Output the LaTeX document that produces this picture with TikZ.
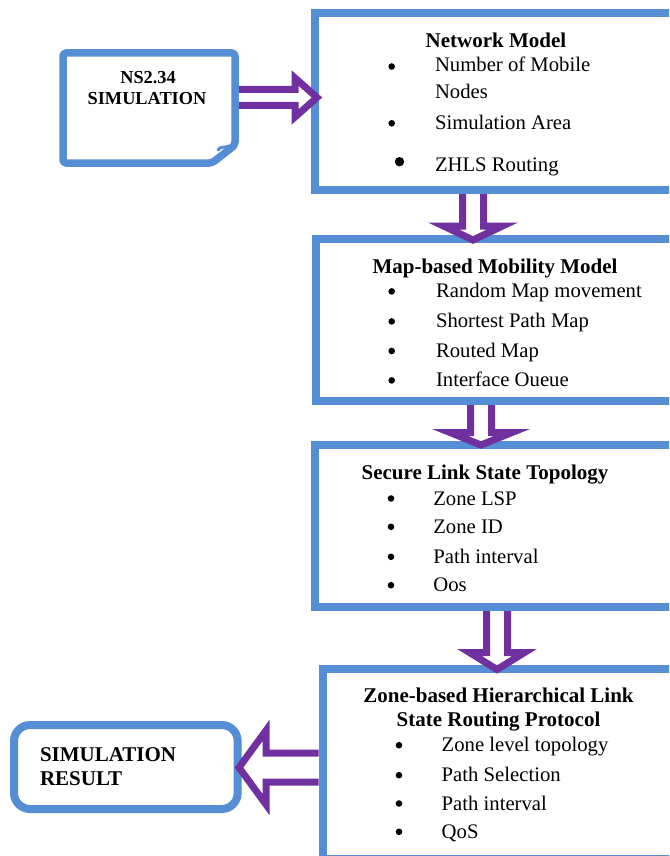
\documentclass[tikz,border=0pt]{standalone}
\usepackage{fontspec}
\setmainfont{Liberation Serif}
\usetikzlibrary{calc}
\definecolor{boxblue}{RGB}{85,142,213}
\definecolor{arrowpurple}{RGB}{112,48,160}
\newcommand\bodyfont{\fontsize{20.7}{24}\selectfont}
\newcommand\headfont{\fontsize{21}{24}\selectfont\bfseries}
\newcommand\nsfont{\fontsize{18.3}{21}\selectfont\bfseries}
% hollow block arrow pointing down: start, tip, half shaft, half head, head length
\newcommand\arrowdown[5]{%
  \fill[white] ($(#1)+(-#3,0)$) -- ($(#2)+(-#3,-#5)$) -- ($(#2)+(-#4,-#5)$) -- (#2)
     -- ($(#2)+(#4,-#5)$) -- ($(#2)+(#3,-#5)$) -- ($(#1)+(#3,0)$) -- cycle;
  \draw[hollow] ($(#1)+(-#3,0)$) -- ($(#2)+(-#3,-#5)$) -- ($(#2)+(-#4,-#5)$) -- (#2)
     -- ($(#2)+(#4,-#5)$) -- ($(#2)+(#3,-#5)$) -- ($(#1)+(#3,0)$);}
% hollow block arrow sideways: start, tip, half shaft, half head, head length, dir (1 right, -1 left)
\newcommand\arrowside[6]{%
  \fill[white] ($(#1)+(0,-#3)$) -- ($(#2)+({-(#6)*#5},-#3)$) -- ($(#2)+({-(#6)*#5},-#4)$) -- (#2)
     -- ($(#2)+({-(#6)*#5},#4)$) -- ($(#2)+({-(#6)*#5},#3)$) -- ($(#1)+(0,#3)$) -- cycle;
  \draw[hollow] ($(#1)+(0,-#3)$) -- ($(#2)+({-(#6)*#5},-#3)$) -- ($(#2)+({-(#6)*#5},-#4)$) -- (#2)
     -- ($(#2)+({-(#6)*#5},#4)$) -- ($(#2)+({-(#6)*#5},#3)$) -- ($(#1)+(0,#3)$);}
\begin{document}
\begin{tikzpicture}[x=1pt,y=-1pt,
  bluebox/.style={draw=boxblue,line width=8pt,rectangle,inner sep=0pt,outer sep=0pt},
  hollow/.style={draw=arrowpurple,line width=7pt,line join=miter,line cap=butt},
  txt/.style={inner sep=0pt,outer sep=0pt,font=\bodyfont,anchor=base west},
  head/.style={inner sep=0pt,outer sep=0pt,font=\headfont,anchor=base},
  bul/.style={fill=black}]
\clip (0,0) rectangle (669,856);
\fill[white] (0,0) rectangle (669,856);

% main boxes (open to the right edge)
\node[bluebox,minimum width=400,minimum height=177,anchor=north west] (net) at (315,13) {};
\node[bluebox,minimum width=400,minimum height=162,anchor=north west] (map) at (315.5,239) {};
\node[bluebox,minimum width=400,minimum height=162,anchor=north west] (sec) at (315,445) {};
\node[bluebox,minimum width=400,minimum height=190,anchor=north west] (zhls) at (322.5,669) {};

% NS2.34 document box
\node[inner sep=0pt,outer sep=0pt,minimum width=172,minimum height=110,anchor=north west] (ns) at (63,53) {};
\draw[boxblue,line width=7.5pt,rounded corners=3pt,line join=round]
  (ns.north west) -- (ns.north east) -- ($(ns.north east)+(0,92)$)
  -- ($(ns.south east)+(-23,0)$) -- (ns.south west) -- cycle;
\draw[boxblue,line width=3pt,line cap=round]
  ($(ns.north east)+(-17,97)$) .. controls ($(ns.north east)+(-15,93)$) and ($(ns.north east)+(-10,95)$) .. ($(ns.north east)+(-6,93)$);

% simulation result box
\node[bluebox,rounded corners=16pt,minimum width=223.7,minimum height=84,anchor=north west] (sim) at (14,725) {};

% arrows
\coordinate (a0s) at ($(ns.north east)+(3.75,44.5)$);
\coordinate (a0t) at ($(net.north west)+(2,84.5)$);
\arrowside{a0s}{a0t}{8}{19.5}{22}{1}
\coordinate (a1s) at ($(net.south west)+(158,4)$);
\coordinate (a1t) at ($(map.north west)+(157.5,1)$);
\arrowdown{a1s}{a1t}{10.5}{29.5}{14}
\coordinate (a2s) at ($(map.south west)+(165.5,4)$);
\coordinate (a2t) at ($(sec.north west)+(166,0)$);
\arrowdown{a2s}{a2t}{10.5}{31}{12.5}
\coordinate (a3s) at ($(sec.south west)+(182,4)$);
\coordinate (a3t) at ($(zhls.north west)+(174.5,0.5)$);
\arrowdown{a3s}{a3t}{10.5}{27.5}{17}
\coordinate (a4s) at ($(zhls.north west)+(-4,98.5)$);
\coordinate (a4t) at ($(sim.east)+(1.3,0.5)$);
\arrowside{a4s}{a4t}{14.5}{37}{27}{-1}

% NS2.34 text
\node[inner sep=0pt,outer sep=0pt,font=\nsfont,anchor=base] (ns1) at (148,84) {NS2.34};
\node[inner sep=0pt,outer sep=0pt,font=\nsfont,anchor=base] (ns2) at (147,105) {SIMULATION};

% box 1
\node[head] (h1) at (496,47.7) {Network Model};
\node[txt] (i11) at (435,71.7) {Number of Mobile};
\node[txt] (i12) at (435,99) {Nodes};
\node[txt] (i13) at (435,129) {Simulation Area};
\node[txt] (i14) at (435,171.7) {ZHLS Routing};
\fill[bul] (391.7,66.5) circle (3.3);
\fill[bul] (391.7,123.3) circle (3.3);
\fill[bul] (399.5,161.7) circle (4.7);

% box 2
\node[head] (h2) at (495,273.3) {Map-based Mobility Model};
\node[txt] (i21) at (436,297.7) {Random Map movement};
\node[txt] (i22) at (436,327.7) {Shortest Path Map};
\node[txt] (i23) at (436,357.3) {Routed Map};
\node[txt] (i24) at (436,386.7) {Interface Oueue};
\foreach \yy in {297.7,327.7,357.3,386.7} \fill[bul] (391.7,\yy-6.3) circle (3.3);

% box 3
\node[head] (h3) at (485,479) {Secure Link State Topology};
\node[txt] (i31) at (433.3,505) {Zone LSP};
\node[txt] (i32) at (433.3,533.3) {Zone ID};
\node[txt] (i33) at (433.3,563.3) {Path interval};
\node[txt] (i34) at (433.3,591.7) {Oos};
\foreach \yy in {505,533.3,563.3,591.7} \fill[bul] (391,\yy-6.5) circle (3.3);

% box 4
\node[head] (h4a) at (498.5,702.7) {Zone-based Hierarchical Link};
\node[head] (h4b) at (498.5,726.7) {State Routing Protocol};
\node[txt] (i41) at (441.7,751.7) {Zone level topology};
\node[txt] (i42) at (441.7,781.7) {Path Selection};
\node[txt] (i43) at (441.7,810) {Path interval};
\node[txt] (i44) at (441.7,838.3) {QoS};
\foreach \yy in {751.7,781.7,810,838.3} \fill[bul] (399,\yy-6.5) circle (3.3);

% simulation result text
\node[inner sep=0pt,outer sep=0pt,font=\headfont,anchor=base west] (r1) at (40,761.7) {SIMULATION};
\node[inner sep=0pt,outer sep=0pt,font=\headfont,anchor=base west] (r2) at (40,785) {RESULT};
\end{tikzpicture}
\end{document}
